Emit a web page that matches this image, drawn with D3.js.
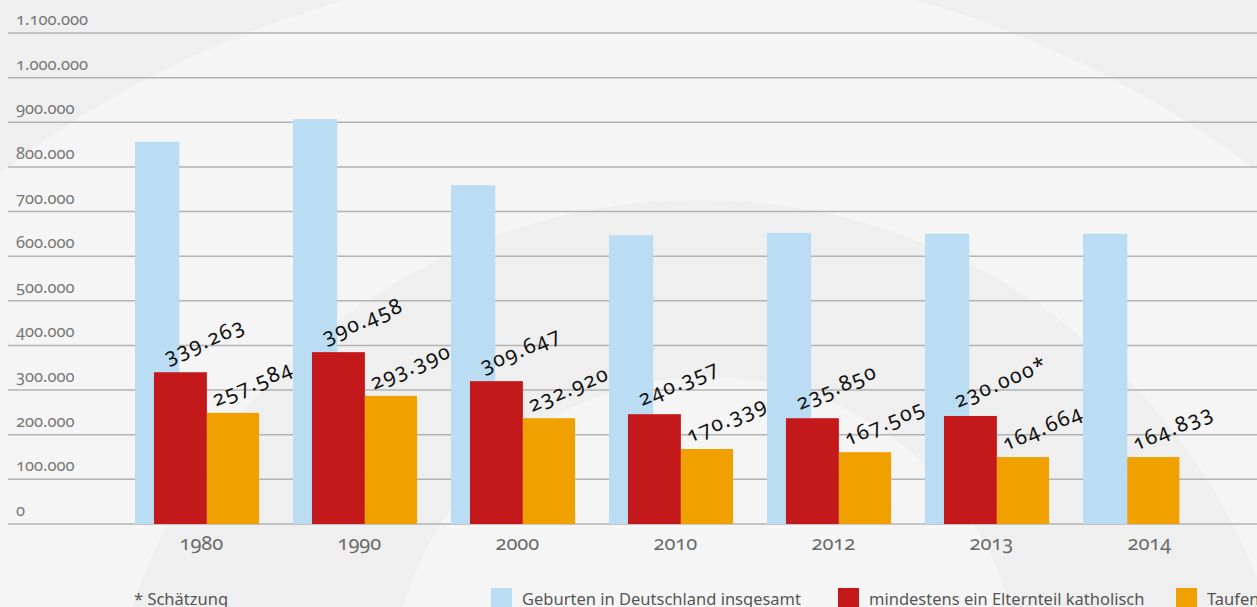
<!DOCTYPE html>
<html>
<head>
<meta charset="utf-8">
<script src="https://cdn.jsdelivr.net/npm/d3@7"></script>
<style>
    body { margin: 0; background: #efefef; overflow: hidden; }
    svg { display: block; font-family: "Noto Sans", "Open Sans", sans-serif; font-feature-settings: "onum"; }
</style>
</head>
<body>
<svg id="chart"></svg>
<script>
var width = 1257,
    height = 607;

// values
var years = ["1980", "1990", "2000", "2010", "2012", "2013", "2014"];
var geburten = [856000, 907000, 759000, 647000, 652000, 650000, 650000];
var katholisch = [340000, 385000, 320000, 246000, 237000, 242000, null];
var taufen = [249000, 287000, 237000, 168000, 161000, 150000, 150000];
var labelsKath = ["339.263", "390.458", "309.647", "240.357", "235.850", "230.000*", null];
var labelsTaufen = ["257.584", "293.390", "232.920", "170.339", "167.505", "164.664", "164.833"];
var ticks = [0, 100000, 200000, 300000, 400000, 500000, 600000, 700000, 800000, 900000, 1000000, 1100000];
var legendNames = ["Geburten in Deutschland insgesamt", "mindestens ein Elternteil katholisch", "Taufen"];
var colors = ["#bbddf4", "#c4191b", "#f0a100"];

var svg = d3.select("#chart")
    .attr("width", width)
    .attr("height", height);

var y = d3.scaleLinear().domain([0, 1100000]).range([524, 33]);
var x = d3.scaleBand().domain(years).range([135, 135 + 158 * years.length]).padding(0);
var step = x.bandwidth();

var fmt = function(v) {
    return d3.format(",")(v).replace(/,/g, ".");
};

////
// background rings
////
var bg = svg.append("g");
bg.append("rect").attr("width", width).attr("height", height).attr("fill", "#efefef");
bg.append("circle").attr("cx", 630).attr("cy", 1000).attr("r", 1040).attr("fill", "#f5f5f5");
bg.append("circle").attr("cx", 700).attr("cy", 800).attr("r", 600).attr("fill", "#efefef");
bg.append("circle").attr("cx", 707).attr("cy", 692).attr("r", 315).attr("fill", "#f5f5f5");

////
// grid + y labels
////
svg.append("g").selectAll("line")
    .data(ticks)
    .join("line")
    .attr("x1", 8)
    .attr("x2", width)
    .attr("y1", d => y(d))
    .attr("y2", d => y(d))
    .attr("stroke", "#b3b3b3")
    .attr("stroke-width", 1.5);

svg.append("g").selectAll("text")
    .data(ticks)
    .join("text")
    .attr("x", 16)
    .attr("y", d => y(d) - 8)
    .attr("fill", "#777")
    .attr("font-size", 16.5)
    .text(d => d === 0 ? "0" : fmt(d));

////
// bars
////
var groups = svg.append("g").selectAll("g")
    .data(years)
    .join("g")
    .attr("transform", d => "translate(" + x(d) + ",0)");

groups.append("rect")
    .attr("x", 0)
    .attr("width", step * 0.28)
    .attr("y", (d, i) => y(geburten[i]))
    .attr("height", (d, i) => y(0) - y(geburten[i]))
    .attr("fill", colors[0]);

groups.filter((d, i) => katholisch[i] != null).append("rect")
    .attr("x", step * 0.12)
    .attr("width", step * 0.335)
    .attr("y", d => y(katholisch[years.indexOf(d)]))
    .attr("height", d => y(0) - y(katholisch[years.indexOf(d)]))
    .attr("fill", colors[1]);

// orange sits right of red, or right of blue when there is no red bar
function taufX(i) {
    return katholisch[i] != null ? step * 0.455 : step * 0.28;
}

groups.append("rect")
    .attr("x", (d, i) => taufX(i))
    .attr("width", step * 0.33)
    .attr("y", (d, i) => y(taufen[i]))
    .attr("height", (d, i) => y(0) - y(taufen[i]))
    .attr("fill", colors[2]);

////
// value labels
////
groups.filter((d, i) => labelsKath[i] != null).append("text")
    .attr("transform", d => {
        var i = years.indexOf(d);
        return "translate(" + (step * 0.12 + 14) + "," + (y(katholisch[i]) - 8) + ") rotate(-23)";
    })
    .attr("font-size", 21)
    .attr("letter-spacing", 1.6)
    .attr("fill", "#111")
    .text(d => labelsKath[years.indexOf(d)]);

groups.append("text")
    .attr("transform", (d, i) => "translate(" + (taufX(i) + 9) + "," + (y(taufen[i]) - 6) + ") rotate(-23)")
    .attr("font-size", 21)
    .attr("letter-spacing", 1.6)
    .attr("fill", "#111")
    .text((d, i) => labelsTaufen[i]);

////
// year labels
////
groups.append("text")
    .attr("x", step * 0.42)
    .attr("y", 550)
    .attr("text-anchor", "middle")
    .attr("font-size", 20)
    .attr("fill", "#6a6a6a")
    .text(d => d);

////
// legend
////
svg.append("text")
    .attr("x", 134)
    .attr("y", 605)
    .attr("font-size", 16.5)
    .attr("fill", "#555")
    .text("* Schätzung");

var legendX = [491, 838, 1176];
var leg = svg.append("g").selectAll("g")
    .data(legendNames)
    .join("g")
    .attr("transform", (d, i) => "translate(" + legendX[i] + ",0)");

leg.append("rect")
    .attr("x", 0)
    .attr("y", 588)
    .attr("width", 21)
    .attr("height", 22)
    .attr("fill", (d, i) => colors[i]);

leg.append("text")
    .attr("x", 31)
    .attr("y", 605)
    .attr("font-size", 16.5)
    .attr("fill", "#555")
    .text(d => d);
</script>
</body>
</html>
